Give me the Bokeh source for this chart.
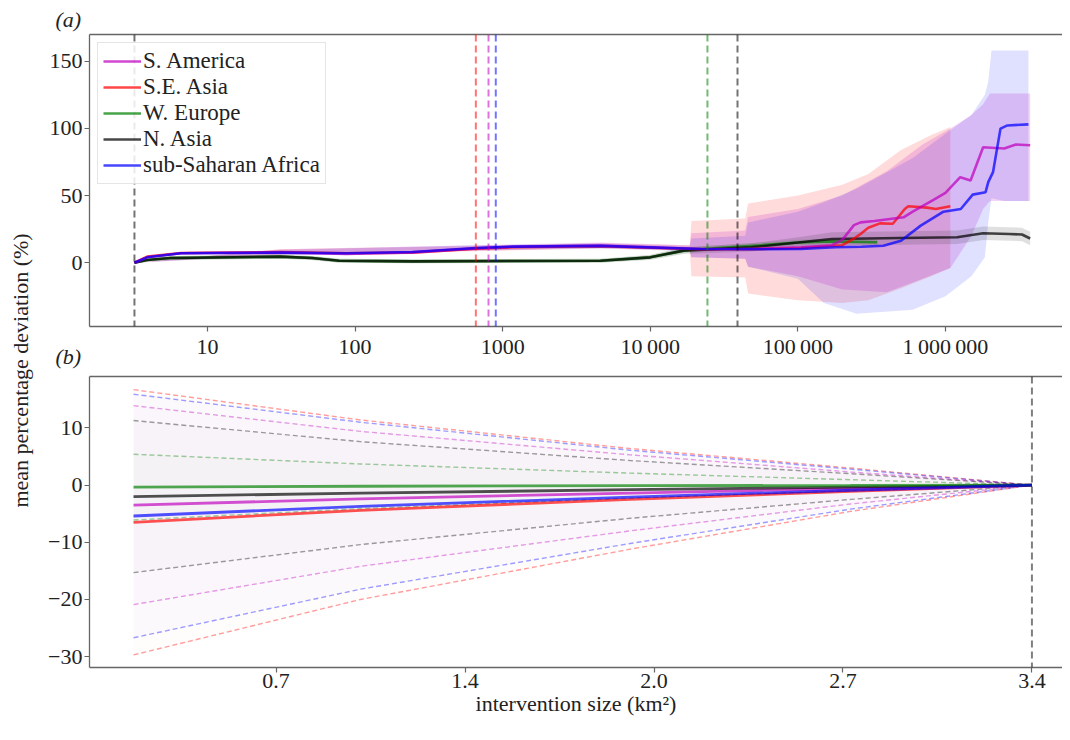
import math
from bokeh.plotting import figure
from bokeh.layouts import row, column
from bokeh.models import Span, FixedTicker, LogAxis, LinearAxis, Range1d, Title
from bokeh.core.properties import value
from bokeh.embed import file_html
from bokeh.resources import INLINE

FONT = "Liberation Serif"

# ---------------- panel (a) data ----------------
regions = ["S. America", "S.E. Asia", "W. Europe", "N. Asia", "sub-Saharan Africa"]
colors = ["#bf00bf", "#ff0000", "#008000", "#000000", "#0000ff"]

sa_x = [3.2, 3.9, 6.6, 31, 87, 245, 660, 1175, 4600, 22000, 48000, 105000, 170000, 200000, 240000,
        266000, 330000, 520000, 600000, 830000, 1.0e6, 1.26e6, 1.48e6, 1.8e6, 2.5e6, 3.0e6, 3.75e6]
sa_y = [0, 4, 7, 7.7, 6.5, 7.7, 10.7, 11.9, 12.7, 10.2, 10.2, 11.4, 13, 17, 28,
        30, 31, 33.8, 38, 46.8, 52, 63.7, 61.2, 86, 85, 88, 87.5]

se_x = [3.2, 3.9, 6.6, 31, 87, 245, 660, 1175, 4600, 22000, 48000, 105000, 200000, 240000, 266000,
        300000, 360000, 440000, 530000, 560000, 750000, 860000, 1.08e6]
se_y = [0, 4.5, 7.2, 8, 7, 7.5, 10.5, 11.5, 12.3, 10, 10, 11, 13, 18, 21.4,
        26, 29.3, 29, 40, 42, 41, 40, 42]

we_x = [3.2, 3.9, 5.6, 31, 51, 78, 245, 4600, 10000, 16800, 22000, 56000, 100000, 170000, 345000]
we_y = [0, 2, 3.5, 4.5, 3.5, 1.5, 1.0, 1.5, 4, 9, 10.2, 13, 15, 15.9, 15.2]
we_hw = [0, 1, 1.5, 1.5, 1.5, 1.5, 1.5, 1.5, 1.5, 2, 2, 2, 2, 2, 2]

na_x = [3.2, 3.9, 5.6, 31, 51, 78, 245, 4600, 10000, 16800, 48000, 100000, 170000, 500000,
        1.2e6, 1.8e6, 2.7e6, 3.3e6, 3.75e6]
na_y = [0, 2, 3.5, 4.5, 3.5, 1.5, 1.0, 1.5, 4, 9, 11.4, 15, 17.7, 18.4,
        19, 21.9, 21.4, 21, 18]
na_hw = [0, 1, 1.5, 1.5, 1.5, 1.5, 1.5, 1.5, 2, 2.5, 3, 4, 5, 5, 5, 5, 5, 5, 5]

ssa_x = [3.2, 3.9, 6.6, 31, 87, 245, 660, 1175, 4600, 22000, 48000, 105000, 180000, 270000, 380000,
         500000, 680000, 970000, 1.27e6, 1.53e6, 1.87e6, 1.95e6, 2.1e6, 2.36e6, 2.63e6, 3.65e6]
ssa_y = [0, 4, 7, 7.5, 7, 8, 11, 12, 12.5, 10.2, 10, 10.2, 11.5, 11.9, 12.6,
         16.4, 27.6, 38, 40, 50.7, 52.5, 60, 67.4, 99.8, 102.2, 103]

# confidence bands of the three wide regions
se_band_x = [3.2, 31, 660, 4600, 18500, 19000, 44000, 46000, 100000, 200000, 300000, 500000, 800000, 1.08e6]
se_band_lo = [0, 6, 8.5, 10.5, 9, -10, -11, -23, -28, -30, -28, -19, -10, -4]
se_band_hi = [0, 10, 12.5, 14.5, 13, 31, 33, 44, 50, 58, 66, 84, 95, 101]

sa_band_x = [3.2, 31, 660, 4600, 18500, 19000, 44000, 46000, 100000, 200000, 400000, 700000,
             1.08e6, 1.5e6, 1.8e6, 2.0e6, 3.75e6]
sa_band_lo = [0, 6, 9, 11, 9, 4, 3, -3, -10, -20, -22, -12, -4, 20, 40, 46, 46]
sa_band_hi = [0, 10, 13, 15, 13, 22, 24, 34, 40, 50, 68, 88, 100, 110, 118, 126, 126]

ssa_band_x = [3.2, 31, 660, 4600, 18500, 19000, 44000, 46000, 100000, 150000, 250000, 600000,
              1.0e6, 1.5e6, 1.85e6, 1.95e6, 2.05e6, 2.5e6, 3.65e6]
ssa_band_lo = [0, 5.5, 9, 10.5, 8.5, 4, 3, -3, -12, -30, -38, -35, -25, -10, 4, 30, 48, 46, 46]
ssa_band_hi = [0, 9.5, 13, 14.5, 12, 18, 20, 30, 38, 45, 55, 78, 96, 110, 125, 135, 158, 158, 158]

# vertical threshold lines
thresholds = [3.2, 658, 802, 898, 24400, 39000]
threshold_colors = ["#000000", "#ff0000", "#bf00bf", "#0000ff", "#008000", "#000000"]

top_xticks = [10, 100, 1000, 10000, 100000, 1000000]
top_xlabels = ["10", "100", "1000", "10\u2009000", "100\u2009000", "1\u2009000\u2009000"]
top_yticks = [0, 50, 100, 150]

# ---------------- panel (b) data ----------------
b_x = [0.167, 0.984, 1.955, 2.747, 3.4]
b_mean = {
    "S. America": [-3.5, -2.4, -1.4, -0.6, 0],
    "S.E. Asia": [-6.5, -4.4, -2.5, -1.1, 0],
    "W. Europe": [-0.35, -0.2, -0.1, -0.05, 0],
    "N. Asia": [-2.0, -1.4, -0.8, -0.35, 0],
    "sub-Saharan Africa": [-5.4, -3.7, -2.1, -0.9, 0],
}
b_upper = {
    "S. America": [13.9, 9.4, 5.3, 2.3, 0],
    "S.E. Asia": [16.7, 11.4, 6.4, 3.0, 0],
    "W. Europe": [5.4, 3.7, 2.1, 0.95, 0],
    "N. Asia": [11.3, 7.6, 4.3, 2.0, 0],
    "sub-Saharan Africa": [15.9, 11.0, 6.1, 2.8, 0],
}
b_lower = {
    "S. America": [-20.9, -14.2, -8.0, -3.3, 0],
    "S.E. Asia": [-29.7, -20.0, -11.2, -4.6, 0],
    "W. Europe": [-6.1, -4.1, -2.3, -1.0, 0],
    "N. Asia": [-15.3, -10.4, -5.8, -2.5, 0],
    "sub-Saharan Africa": [-26.7, -18.2, -10.2, -4.2, 0],
}
b_xticks = [0.68, 1.36, 2.04, 2.72, 3.4]
b_xlabels = ["0.7", "1.4", "2.0", "2.7", "3.4"]
b_yticks = [-30, -20, -10, 0, 10]
b_ylabels = ["\u221230", "\u221220", "\u221210", "0", "10"]
b_vline = 3.4

TICK_FS = "22px"


def style_axes(p):
    p.xgrid.visible = False
    p.ygrid.visible = False
    p.outline_line_color = None
    p.background_fill_color = "white"
    for ax in list(p.below) + list(p.left):
        ax.axis_line_color = "#666666"
        ax.axis_line_width = 1.3
        ax.major_tick_line_color = "#666666"
        ax.major_tick_line_width = 1.2
        ax.major_tick_in = 0
        ax.major_tick_out = 5
        ax.minor_tick_line_color = None
        ax.major_label_text_font = FONT
        ax.major_label_text_font_size = TICK_FS
        ax.major_label_text_color = "#222222"
        ax.major_label_standoff = 2


def top_border(p, axis_cls):
    ax = axis_cls(ticker=FixedTicker(ticks=[]), major_label_text_font_size="0px",
                  axis_line_color="#666666", axis_line_width=1.3, major_tick_line_color=None,
                  minor_tick_line_color=None, major_tick_out=0, major_tick_in=0,
                  major_label_standoff=0)
    p.add_layout(ax, "above")


def panel_letter(text, valign, standoff):
    return Title(text=text, align="left", offset=-34, vertical_align=valign, standoff=standoff,
                 text_font=FONT, text_font_style="italic", text_font_size="22px",
                 text_color="#222222")


# ---------------- figure (a) ----------------
p1 = figure(width=1024, height=372, x_axis_type="log",
            x_range=Range1d(1.587, 6.21e6), y_range=Range1d(-47.5, 169.9),
            output_backend="svg", toolbar_location=None,
            min_border_left=51, min_border_right=0, min_border_top=34, min_border_bottom=46)

p1.varea(x=se_band_x, y1=se_band_lo, y2=se_band_hi, fill_color="#ff0000", fill_alpha=0.14)
p1.varea(x=sa_band_x, y1=sa_band_lo, y2=sa_band_hi, fill_color="#bf00bf", fill_alpha=0.17)
p1.varea(x=ssa_band_x, y1=ssa_band_lo, y2=ssa_band_hi, fill_color="#0000ff", fill_alpha=0.12)
p1.varea(x=na_x, y1=[a - b for a, b in zip(na_y, na_hw)], y2=[a + b for a, b in zip(na_y, na_hw)],
         fill_color="#000000", fill_alpha=0.12)
p1.varea(x=we_x, y1=[a - b for a, b in zip(we_y, we_hw)], y2=[a + b for a, b in zip(we_y, we_hw)],
         fill_color="#008000", fill_alpha=0.12)

series = [(sa_x, sa_y), (se_x, se_y), (we_x, we_y), (na_x, na_y), (ssa_x, ssa_y)]
draw_order = [2, 3, 1, 0, 4]
for i in draw_order:
    xs, ys = series[i]
    p1.line(xs, ys, line_color=colors[i], line_alpha=0.72, line_width=2.6, legend_label=regions[i])

for xv, c in zip(thresholds, threshold_colors):
    p1.add_layout(Span(location=xv, dimension="height", line_color=c, line_alpha=0.55,
                       line_width=2, line_dash="7 4"))

p1.xaxis.ticker = FixedTicker(ticks=top_xticks)
p1.xaxis.major_label_overrides = {t: l for t, l in zip(top_xticks, top_xlabels)}
p1.yaxis.ticker = FixedTicker(ticks=top_yticks)
style_axes(p1)
top_border(p1, LogAxis)

# panel letters: (a) above panel a, (b) tucked under panel a's tick labels
p1.add_layout(panel_letter("(a)", "top", 2), "above")
p1.add_layout(panel_letter("(b)", "top", -36), "below")

leg = p1.legend[0]
leg.items = sorted(leg.items, key=lambda it: regions.index(it.label.value))
leg.location = "top_left"
leg.margin = 8
leg.padding = 5
leg.spacing = 0
leg.label_text_font = FONT
leg.label_text_font_size = "23px"
leg.label_text_color = "#222222"
leg.glyph_width = 38
leg.glyph_height = 26
leg.label_height = 26
leg.label_standoff = 2
leg.border_line_color = "#cccccc"
leg.border_line_width = 1.2
leg.background_fill_alpha = 0.85

# ---------------- figure (b) ----------------
p2 = figure(width=1024, height=352, x_range=Range1d(0.0086, 3.51), y_range=Range1d(-31.9, 19.0),
            output_backend="svg", toolbar_location=None,
            min_border_left=51, min_border_right=0, min_border_top=4, min_border_bottom=57)

for i, r in enumerate(regions):
    p2.varea(x=b_x, y1=b_lower[r], y2=b_upper[r], fill_color=colors[i], fill_alpha=0.012)
for i, r in enumerate(regions):
    p2.line(b_x, b_upper[r], line_color=colors[i], line_alpha=0.38, line_width=1.4, line_dash="5 3")
    p2.line(b_x, b_lower[r], line_color=colors[i], line_alpha=0.38, line_width=1.4, line_dash="5 3")
for i in [0, 1, 3, 2, 4]:
    r = regions[i]
    p2.line(b_x, b_mean[r], line_color=colors[i], line_alpha=0.68, line_width=2.8)

p2.add_layout(Span(location=b_vline, dimension="height", line_color="#000000", line_alpha=0.5,
                   line_width=2, line_dash="7 4"))

p2.xaxis.ticker = FixedTicker(ticks=b_xticks)
p2.xaxis.major_label_overrides = {t: l for t, l in zip(b_xticks, b_xlabels)}
p2.yaxis.ticker = FixedTicker(ticks=b_yticks)
p2.yaxis.major_label_overrides = {t: l for t, l in zip(b_yticks, b_ylabels)}
style_axes(p2)
xa = p2.below[0]
xa.major_label_standoff = 1
xa.axis_label = "intervention size (km\u00b2)"
xa.axis_label_text_font = FONT
xa.axis_label_text_font_style = "normal"
xa.axis_label_text_font_size = "22px"
xa.axis_label_text_color = "#222222"
xa.axis_label_standoff = 0
top_border(p2, LinearAxis)

# ---------------- shared y label ----------------
pl = figure(width=38, height=724, x_range=Range1d(0, 38), y_range=Range1d(0, 724),
            output_backend="svg", toolbar_location=None, min_border=0)
pl.axis.visible = False
pl.grid.visible = False
pl.outline_line_color = None
pl.text(x=[20], y=[354], text=["mean percentage deviation (%)"], angle=math.pi / 2,
        text_align="center", text_baseline="middle", text_font=value(FONT),
        text_font_size="22px", text_color="#222222")

layout = row(pl, column(p1, p2, spacing=0), spacing=0)
open("out.html", "w").write(file_html(layout, INLINE))
